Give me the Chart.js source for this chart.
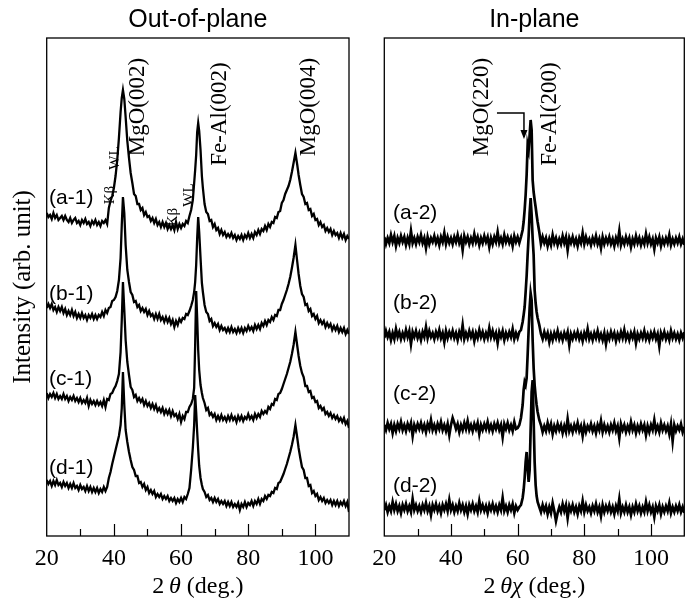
<!DOCTYPE html>
<html>
<head>
<meta charset="utf-8">
<script src="https://cdn.jsdelivr.net/npm/chart.js@4.4.1/dist/chart.umd.min.js"></script>
<style>
  html, body { margin: 0; padding: 0; background: #fff; }
  #wrap { position: relative; width: 688px; height: 598px; }
  .pane { position: absolute; top: 0; height: 598px; }
  #left { left: 0; width: 356px; }
  #right { left: 356px; width: 332px; }
</style>
</head>
<body>
<div id="wrap">
  <div class="pane" id="left"><canvas id="outChart"></canvas></div>
  <div class="pane" id="right"><canvas id="inChart"></canvas></div>
</div>
<script>
// ---- data (intensities are offset traces, arbitrary units) ----
const outAngle = [
  20,20.5,21,21.5,22,22.5,23,23.5,24,24.5,
  25,25.5,26,26.5,27,27.5,28,28.5,29,29.5,
  30,30.5,31,31.5,32,32.5,33,33.5,34,34.5,
  35,35.5,36,36.5,37,37.5,38,38.5,39,39.5,
  40,40.5,41,41.5,42,42.35,42.7,43.1,43.5,44,
  44.5,45,45.5,46,46.5,47,47.5,48,48.5,49,
  49.5,50,50.5,51,51.5,52,52.5,53,53.5,54,
  54.5,55,55.5,56,56.5,57,57.5,58,58.5,59,
  59.5,60,60.5,61,61.5,62,62.5,63,63.5,63.9,
  64.2,64.5,64.8,65.1,65.4,65.8,66.2,66.5,67,67.5,
  68,68.5,69,69.5,70,70.5,71,71.5,72,72.5,
  73,73.5,74,74.5,75,75.5,76,76.5,77,77.5,
  78,78.5,79,79.5,80,80.5,81,81.5,82,82.5,
  83,83.5,84,84.5,85,85.5,86,86.5,87,87.5,
  88,88.5,89,89.5,90,90.5,91,91.5,92,92.5,
  93,93.5,94.05,94.6,95,95.5,96,96.5,97,97.5,
  98,98.5,99,99.5,100,100.5,101,101.5,102,102.5,
  103,103.5,104,104.5,105,105.5,106,106.5,107,107.5,
  108,108.5,109,109.5,110
];
const outA1 = [
  323,319,321,317,323,318,321,316,318,320,
  316,320,316,314,318,313,316,318,313,315,
  311,316,313,317,312,314,310,315,312,316,
  311,314,310,315,313,316,312,328,335,340,
  348,360,376,398,424,438,446,437,419,395,
  378,363,353,342,340,332,332,326,328,321,
  324,319,320,315,318,313,317,311,314,309,
  314,309,313,307,311,307,311,306,314,307,
  312,308,312,310,315,313,320,326,336,353,
  366,381,404,413,405,386,360,348,332,324,
  322,315,316,309,312,306,308,302,306,301,
  304,299,302,299,303,298,301,296,300,297,
  301,296,301,298,303,298,302,298,304,301,
  306,302,307,305,310,306,312,309,314,313,
  319,318,324,325,333,336,342,346,350,356,
  364,373,383,371,361,351,342,339,332,333,
  326,327,320,322,316,317,311,314,309,311,
  305,308,304,307,301,305,301,303,298,303,
  298,302,296,300,297
];
const outB1 = [
  228,232,228,232,226,229,224,229,225,229,
  223,227,221,225,221,226,220,224,218,222,
  218,223,218,221,216,221,218,222,217,221,
  217,221,219,224,220,226,223,228,229,235,
  236,239,245,256,278,311,339,323,291,266,
  254,244,241,234,235,229,231,225,228,224,
  227,221,225,220,222,217,222,217,222,216,
  219,214,219,214,218,212,216,209,215,211,
  217,214,218,217,222,221,225,230,236,244,
  254,271,298,319,304,278,253,244,231,224,
  222,215,217,210,213,209,212,206,210,206,
  208,204,208,204,209,204,207,203,208,204,
  208,203,208,205,210,206,209,205,211,207,
  211,207,213,210,215,211,216,214,219,216,
  221,220,226,226,232,236,241,246,252,259,
  268,278,291,274,262,250,242,239,231,232,
  225,227,220,222,217,220,213,216,212,215,
  209,213,209,212,206,210,206,210,204,208,
  204,208,202,206,202
];
const outC1 = [
  143,138,142,139,143,138,142,137,140,137,
  142,137,140,135,139,136,140,135,138,134,
  138,133,136,133,138,130,136,132,135,131,
  135,131,134,130,136,129,137,136,142,143,
  147,150,155,162,184,216,254,226,196,174,
  161,149,146,139,141,135,138,134,137,131,
  135,130,133,128,132,127,131,125,128,124,
  128,122,126,122,126,120,125,120,122,117,
  122,114,120,117,124,124,129,132,137,148,
  191,245,218,186,166,151,143,138,133,126,
  128,121,123,119,122,116,120,116,121,116,
  119,115,120,116,121,116,119,114,120,116,
  120,115,119,117,122,117,120,116,122,118,
  122,119,125,122,125,123,129,127,132,131,
  137,136,142,143,147,152,157,162,168,174,
  182,191,204,190,180,170,163,159,150,150,
  144,145,138,139,134,135,128,130,126,128,
  122,124,120,123,118,121,117,120,115,118,
  114,118,112,115,108
];
const outD1 = [
  56,52,55,50,55,51,56,51,53,49,
  54,50,53,48,52,48,53,48,50,46,
  51,47,49,45,50,45,49,44,48,44,
  48,43,47,44,49,45,49,58,64,72,
  79,86,93,100,111,128,164,131,106,94,
  84,76,69,66,60,60,53,54,49,52,
  46,49,43,46,42,45,39,42,39,42,
  37,40,37,40,35,38,35,38,33,37,
  34,38,34,39,37,42,48,66,88,111,
  141,124,104,86,70,58,51,47,44,39,
  41,36,38,34,38,34,37,32,35,32,
  35,30,34,30,34,29,32,29,33,26,
  32,29,34,29,33,31,35,30,35,32,
  37,32,37,35,40,37,41,40,44,43,
  48,47,53,54,58,62,67,72,78,84,
  91,99,111,98,88,78,69,66,58,58,
  50,51,43,45,40,42,36,39,35,38,
  33,36,33,36,31,35,31,35,30,34,
  31,35,30,34,24
];

const inAngle = [
  20,20.5,21,21.5,22,22.5,23,23.5,24,24.5,
  25,25.5,26,26.5,27,27.5,28,28.5,29,29.5,
  30,30.5,31,31.5,32,32.5,33,33.5,34,34.5,
  35,35.5,36,36.5,37,37.5,38,38.5,39,39.5,
  40,40.5,41,41.5,42,42.5,43,43.5,44,44.5,
  45,45.5,46,46.5,47,47.5,48,48.5,49,49.5,
  50,50.5,51,51.5,52,52.5,53,53.5,54,54.5,
  55,55.5,56,56.5,57,57.5,58,58.5,59,59.5,
  60,60.5,61,61.5,61.8,62.1,62.4,62.7,63,63.3,
  63.6,63.9,64.2,64.5,64.8,65.1,65.4,65.7,66,66.5,
  67,67.5,68,68.5,69,69.5,70,70.5,71,71.5,
  72,72.5,73,73.5,74,74.5,75,75.5,76,76.5,
  77,77.5,78,78.5,79,79.5,80,80.5,81,81.5,
  82,82.5,83,83.5,84,84.5,85,85.5,86,86.5,
  87,87.5,88,88.5,89,89.5,90,90.5,91,91.5,
  92,92.5,93,93.5,94,94.5,95,95.5,96,96.5,
  97,97.5,98,98.5,99,99.5,100,100.5,101,101.5,
  102,102.5,103,103.5,104,104.5,105,105.5,106,106.5,
  107,107.5,108,108.5,109,109.5,110
];
const inA2 = [
  299,292,298,293,301,294,300,290,298,293,
  300,294,299,291,298,292,305,293,298,292,
  299,294,301,293,298,288,299,292,298,294,
  300,293,298,291,299,294,303,292,299,293,
  298,292,299,294,301,293,298,286,300,294,
  299,292,298,293,302,294,299,291,298,293,
  300,294,299,289,298,292,299,294,304,293,
  298,292,301,294,299,293,298,290,300,294,
  299,293,299,306,314,326,341,361,391,386,
  401,416,406,356,344,336,329,321,314,304,
  292,299,293,298,290,297,291,301,293,298,
  291,297,292,300,293,299,286,298,293,299,
  292,297,290,298,293,303,292,299,293,297,
  291,298,293,300,292,297,288,299,292,298,
  293,299,292,297,290,298,293,305,291,297,
  292,299,293,298,289,297,292,300,293,298,
  291,297,292,302,293,299,292,297,287,298,
  293,299,290,297,292,298,293,301,291,297,
  292,298,293,299,292,297,291
];
const inB2 = [
  198,205,199,204,196,203,197,207,199,204,
  197,203,198,206,199,205,192,204,199,205,
  198,203,196,204,199,209,198,205,199,203,
  197,204,199,206,198,203,194,205,198,204,
  199,205,198,203,196,204,199,211,197,203,
  198,205,199,204,195,203,198,206,199,204,
  197,203,198,208,199,205,198,203,193,204,
  199,205,196,203,198,204,199,207,197,203,
  198,204,206,214,221,229,244,260,281,300,
  323,338,321,298,281,246,233,224,218,211,
  202,197,204,198,203,194,202,196,203,198,
  205,197,202,196,203,198,204,191,202,197,
  203,198,204,197,202,195,203,198,207,197,
  202,196,203,198,205,197,202,196,203,192,
  202,197,204,198,203,195,202,197,204,198,
  206,197,202,196,203,198,204,193,202,197,
  203,198,205,197,202,196,203,198,204,197,
  202,190,203,198,204,197,202,196,205,198,
  203,197,202,196,203,198,204
];
const inC2 = [
  111,106,113,107,112,103,111,105,112,107,
  114,106,111,105,112,107,113,100,111,106,
  112,107,113,106,111,104,112,107,116,106,
  111,105,112,107,114,106,111,105,112,101,
  111,118,113,107,112,104,111,106,113,107,
  115,106,111,105,112,107,113,102,111,106,
  112,107,114,106,111,105,112,107,113,106,
  111,99,112,107,113,106,111,105,114,107,
  108,111,118,131,146,154,151,158,181,206,
  228,243,236,196,168,151,140,131,124,116,
  111,104,110,105,113,106,112,102,110,105,
  112,106,111,103,110,104,117,105,110,104,
  111,106,113,105,110,100,111,104,110,106,
  112,105,110,103,111,106,115,104,111,105,
  110,104,111,106,113,105,110,98,112,106,
  111,104,110,105,114,106,111,103,110,105,
  112,106,111,101,110,104,111,106,116,105,
  110,104,113,106,111,105,110,102,112,95,
  111,105,110,106,112,104,109
];
const inD2 = [
  26,31,24,30,25,34,26,32,25,30,
  23,31,26,32,25,30,24,37,26,31,
  25,30,24,31,26,33,25,30,21,31,
  26,32,25,30,23,31,26,32,25,36,
  26,31,24,30,25,33,26,31,24,30,
  22,31,26,32,25,30,24,35,26,31,
  25,30,23,31,26,32,25,30,24,31,
  26,38,25,30,24,31,26,32,23,30,
  26,29,31,38,46,58,74,84,68,54,
  66,106,144,156,116,74,51,40,34,29,
  24,31,25,30,22,29,23,33,25,15,
  23,29,24,32,25,31,18,30,25,31,
  24,29,22,30,25,35,24,31,25,29,
  23,30,25,32,24,29,20,31,24,30,
  25,31,24,29,22,30,25,37,23,29,
  24,31,24,29,21,29,24,32,25,30,
  23,29,24,34,25,31,24,29,19,30,
  25,31,22,29,24,30,25,33,23,29,
  24,30,25,31,24,29,23
];

const tickLabels = [20, 40, 60, 80, 100];
const tickMarks = [30, 40, 50, 60, 70, 80, 90, 100];

// [text, angle, intensity]
const outTraceLabels = [['(a-1)', 20.7, 338], ['(b-1)', 20.7, 242], ['(c-1)', 20.7, 157], ['(d-1)', 20.7, 68]];
const inTraceLabels = [['(a-2)', 22.6, 323], ['(b-2)', 22.6, 233], ['(c-2)', 22.6, 142], ['(d-2)', 22.6, 50]];
const outPeakLabels = [['MgO(002)', 47.1, 429], ['Fe-Al(002)', 71.5, 422], ['MgO(004)', 98.2, 429]];
const inPeakLabels = [['MgO(220)', 49.3, 429], ['Fe-Al(200)', 69.7, 422]];
const outLineLabels = [['K\u03b2', 38.8, 341], ['WL', 40.3, 378], ['K\u03b2', 57.5, 319], ['WL', 62.3, 341]];
const inArrow = [[53.8, 423], [61.9, 423], [61.9, 399]];

const SERIF = '"Liberation Serif", "Times New Roman", serif';
const SANS = '"Liberation Sans", Arial, sans-serif';

const decorPlugin = {
  id: 'decor',
  afterDraw(chart, args, opts) {
    const ctx = chart.ctx;
    const a = chart.chartArea;
    const xs = chart.scales.x, ys = chart.scales.y;
    ctx.save();
    ctx.strokeStyle = '#000';
    ctx.fillStyle = '#000';
    ctx.lineWidth = 1.3;
    ctx.strokeRect(a.left, a.top, a.right - a.left, a.bottom - a.top);

    // inward ticks on the bottom edge
    ctx.lineWidth = 1.2;
    tickMarks.forEach(v => {
      const px = Math.round(xs.getPixelForValue(v)) + 0.5;
      const len = tickLabels.includes(v) ? 12 : 7;
      ctx.beginPath();
      ctx.moveTo(px, a.bottom);
      ctx.lineTo(px, a.bottom - len);
      ctx.stroke();
    });

    // trace labels
    ctx.font = '21px ' + SANS;
    ctx.textAlign = 'left';
    ctx.textBaseline = 'middle';
    opts.traces.forEach(t => ctx.fillText(t[0], xs.getPixelForValue(t[1]), ys.getPixelForValue(t[2])));

    // rotated peak labels
    const rot = (list, font) => {
      ctx.font = font;
      ctx.textAlign = 'center';
      ctx.textBaseline = 'middle';
      list.forEach(t => {
        ctx.save();
        ctx.translate(xs.getPixelForValue(t[1]), ys.getPixelForValue(t[2]));
        ctx.rotate(-Math.PI / 2);
        ctx.fillText(t[0], 0, 0);
        ctx.restore();
      });
    };
    rot(opts.peaks, '23px ' + SERIF);
    if (opts.lines) rot(opts.lines, '15px ' + SERIF);

    // arrow
    if (opts.arrow) {
      const pts = opts.arrow.map(p => [xs.getPixelForValue(p[0]), ys.getPixelForValue(p[1])]);
      ctx.lineWidth = 1.5;
      ctx.beginPath();
      ctx.moveTo(pts[0][0], pts[0][1]);
      pts.slice(1).forEach(p => ctx.lineTo(p[0], p[1]));
      ctx.stroke();
      const end = pts[pts.length - 1];
      ctx.beginPath();
      ctx.moveTo(end[0], end[1] + 2);
      ctx.lineTo(end[0] - 3.5, end[1] - 7);
      ctx.lineTo(end[0] + 3.5, end[1] - 7);
      ctx.closePath();
      ctx.fill();
    }

    // x axis title with italic Greek letters
    ctx.textAlign = 'left';
    ctx.textBaseline = 'middle';
    let total = 0;
    opts.xTitle.forEach(p => { ctx.font = p[1]; p.w = ctx.measureText(p[0]).width; total += p.w; });
    let x = (a.left + a.right) / 2 - total / 2;
    const y = a.bottom + 51;
    opts.xTitle.forEach(p => { ctx.font = p[1]; ctx.fillText(p[0], x, y); x += p.w; });
    ctx.restore();
  }
};

function makeChart(id, title, angles, traces, lineW, yWidth, yTitle, padRight, decor) {
  const datasets = traces.map(vals => ({
    data: vals.map((v, i) => ({ x: angles[i], y: v })),
    borderColor: '#000',
    borderWidth: lineW,
    pointRadius: 0,
    tension: 0,
    fill: false
  }));
  return new Chart(document.getElementById(id), {
    type: 'line',
    data: { datasets },
    plugins: [decorPlugin],
    options: {
      responsive: true,
      maintainAspectRatio: false,
      animation: false,
      events: [],
      layout: { padding: { left: 0, right: padRight, top: 0, bottom: 0 } },
      plugins: {
        legend: { display: false },
        tooltip: { enabled: false },
        title: {
          display: true,
          text: title,
          fullSize: false,
          color: '#000',
          font: { family: SANS, size: 25, weight: 'normal', lineHeight: 1.2 },
          padding: { top: 5, bottom: 3 }
        },
        decor
      },
      scales: {
        x: {
          type: 'linear',
          min: 20,
          max: 110,
          grid: { display: false, drawTicks: false },
          border: { display: false },
          ticks: {
            stepSize: 20,
            includeBounds: false,
            autoSkip: false,
            maxRotation: 0,
            padding: 8,
            color: '#000',
            font: { family: SERIF, size: 24 },
            callback: v => (tickLabels.includes(v) ? String(v) : null)
          },
          afterFit: s => { s.height = 62; }
        },
        y: {
          min: 0,
          max: 498,
          grid: { display: false, drawTicks: false },
          border: { display: false },
          ticks: { display: false },
          title: {
            display: !!yTitle,
            text: yTitle,
            color: '#000',
            font: { family: SERIF, size: 25 },
            padding: { top: 8, bottom: 0 }
          },
          afterFit: s => { s.width = yWidth; }
        }
      }
    }
  });
}

const italic = 'italic 24px ' + SERIF;
const upright = '24px ' + SERIF;

makeChart('outChart', 'Out-of-plane', outAngle, [outA1, outB1, outC1, outD1], 2.3, 46.7,
  'Intensity (arb. unit)', 7, {
    traces: outTraceLabels,
    peaks: outPeakLabels,
    lines: outLineLabels,
    xTitle: [['2\u2009', upright], ['\u03b8', italic], [' (deg.)', upright]]
  });

makeChart('inChart', 'In-plane', inAngle, [inA2, inB2, inC2, inD2], 2.7, 28.3,
  '', 3.7, {
    traces: inTraceLabels,
    peaks: inPeakLabels,
    arrow: inArrow,
    xTitle: [['2\u2009', upright], ['\u03b8\u03c7', italic], [' (deg.)', upright]]
  });
</script>
</body>
</html>
